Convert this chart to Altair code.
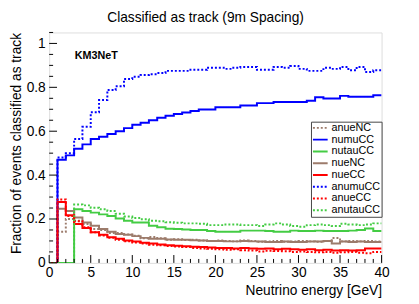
import altair as alt
import pandas as pd

# ---------------- data ----------------
bin_low = list(range(0, 40))          # 1 GeV bins, lower edges
x_end = 40

series = ["anueNC", "numuCC", "nutauCC", "nueNC", "nueCC", "anumuCC", "anueCC", "anutauCC"]
colors = ["#9c7b6b", "#0000ff", "#44cc44", "#9c7b6b", "#ff0000", "#0000ff", "#ff0000", "#44cc44"]
dashes = [[2, 2], [1, 0], [1, 0], [1, 0], [1, 0], [2, 2], [2, 2], [2, 2]]

numuCC = [0, 0.47, 0.49, 0.52, 0.54, 0.565, 0.575, 0.587, 0.600, 0.614,
          0.629, 0.639, 0.650, 0.661, 0.670, 0.678, 0.685, 0.692, 0.699, 0.699,
          0.709, 0.709, 0.709, 0.717, 0.717, 0.728, 0.728, 0.733, 0.733, 0.733,
          0.733, 0.739, 0.755, 0.749, 0.749, 0.761, 0.757, 0.757, 0.757, 0.764]
anumuCC = [0, 0.48, 0.50, 0.565, 0.620, 0.686, 0.742, 0.788, 0.805, 0.838,
           0.848, 0.856, 0.860, 0.865, 0.875, 0.875, 0.875, 0.880, 0.880, 0.889,
           0.889, 0.884, 0.889, 0.893, 0.893, 0.880, 0.880, 0.893, 0.889, 0.897,
           0.884, 0.875, 0.875, 0.889, 0.884, 0.893, 0.878, 0.893, 0.870, 0.878]
nutauCC = [0, 0, 0, 0.244, 0.236, 0.229, 0.221, 0.214, 0.202, 0.192,
           0.184, 0.184, 0.169, 0.162, 0.156, 0.154, 0.152, 0.150, 0.150, 0.145,
           0.142, 0.142, 0.142, 0.147, 0.147, 0.147, 0.145, 0.142, 0.142, 0.147,
           0.145, 0.145, 0.147, 0.145, 0.145, 0.145, 0.147, 0.150, 0.157, 0.145]
anutauCC = [0, 0, 0, 0.266, 0.262, 0.251, 0.244, 0.236, 0.224, 0.211,
            0.205, 0.199, 0.192, 0.190, 0.185, 0.183, 0.180, 0.180, 0.178, 0.172,
            0.172, 0.175, 0.175, 0.172, 0.172, 0.168, 0.175, 0.180, 0.175, 0.168,
            0.165, 0.172, 0.175, 0.172, 0.168, 0.178, 0.175, 0.172, 0.175, 0.180]
nueNC = [0, 0.247, 0.236, 0.207, 0.184, 0.169, 0.154, 0.142, 0.132, 0.128,
         0.122, 0.114, 0.110, 0.110, 0.107, 0.105, 0.105, 0.103, 0.102, 0.100,
         0.100, 0.098, 0.098, 0.100, 0.098, 0.097, 0.095, 0.095, 0.097, 0.095,
         0.095, 0.097, 0.097, 0.100, 0.088, 0.097, 0.095, 0.097, 0.095, 0.095]
anueNC = [0, 0.142, 0.200, 0.192, 0.177, 0.154, 0.150, 0.136, 0.136, 0.130,
          0.124, 0.112, 0.118, 0.112, 0.105, 0.108, 0.104, 0.106, 0.102, 0.100,
          0.102, 0.100, 0.098, 0.102, 0.100, 0.096, 0.098, 0.100, 0.096, 0.098,
          0.100, 0.098, 0.096, 0.100, 0.113, 0.098, 0.100, 0.098, 0.100, 0.098]
nueCC = [0, 0.277, 0.217, 0.177, 0.159, 0.140, 0.128, 0.117, 0.110, 0.102,
         0.097, 0.092, 0.088, 0.084, 0.080, 0.078, 0.076, 0.074, 0.072, 0.070,
         0.068, 0.068, 0.066, 0.068, 0.066, 0.064, 0.066, 0.062, 0.064, 0.062,
         0.060, 0.062, 0.058, 0.060, 0.056, 0.058, 0.056, 0.058, 0.066, 0.066]
anueCC = [0, 0.289, 0.214, 0.190, 0.162, 0.140, 0.125, 0.115, 0.105, 0.098,
          0.093, 0.088, 0.083, 0.080, 0.077, 0.075, 0.072, 0.068, 0.066, 0.064,
          0.062, 0.060, 0.062, 0.058, 0.056, 0.052, 0.055, 0.054, 0.053, 0.050,
          0.052, 0.050, 0.048, 0.050, 0.046, 0.048, 0.050, 0.046, 0.044, 0.050]

values = {"anueNC": anueNC, "numuCC": numuCC, "nutauCC": nutauCC, "nueNC": nueNC,
          "nueCC": nueCC, "anumuCC": anumuCC, "anueCC": anueCC, "anutauCC": anutauCC}

y_major = [0, 0.2, 0.4, 0.6, 0.8, 1.0]
y_minor = [0.05, 0.1, 0.15, 0.25, 0.3, 0.35, 0.45, 0.5, 0.55, 0.65, 0.7, 0.75,
           0.85, 0.9, 0.95, 1.05]
x_major = [0, 5, 10, 15, 20, 25, 30, 35, 40]
x_minor = [e for e in range(0, 41) if e not in x_major]

title_text = "Classified as track (9m Spacing)"
x_title = "Neutrino energy [GeV]"
y_title = "Fraction of events classified as track"
tag = "KM3NeT"

# ---------------- build tables ----------------
rows = []
for k, name in enumerate(series):
    vals = values[name]
    for e, v in zip(bin_low, vals):
        rows.append({"E": e, "frac": v, "series": name, "ord": k})
    rows.append({"E": x_end, "frac": vals[-1], "series": name, "ord": k})
df = pd.DataFrame(rows)

FONT = "Liberation Sans"
W, H = 339, 235

xscale = alt.Scale(domain=[0, 40], nice=False, zero=False)
yscale = alt.Scale(domain=[0, 1.05], nice=False, zero=False)
xaxis = alt.Axis(values=x_major, format="~g", ticks=False, tickSize=0, domain=False,
                 grid=False, labelFont=FONT, labelFontSize=14, labelColor="black",
                 labelPadding=3, labelFlush=False, labelOverlap=False,
                 title=x_title, titleFont=FONT, titleFontSize=14,
                 titleFontWeight="normal", titleColor="black", titleAnchor="end",
                 titlePadding=4)
yaxis = alt.Axis(values=y_major, format="~g", ticks=False, tickSize=0, domain=False,
                 grid=False, labelFont=FONT, labelFontSize=14, labelColor="black",
                 labelPadding=4, labelFlush=False, labelOverlap=False,
                 title=y_title, titleFont=FONT, titleFontSize=14,
                 titleFontWeight="normal", titleColor="black", titleAnchor="end",
                 titlePadding=3)


def X(field):
    return alt.X(f"{field}:Q", scale=xscale, axis=xaxis)


def Y(field):
    return alt.Y(f"{field}:Q", scale=yscale, axis=yaxis)


legend = alt.Legend(title=None, orient="none", legendX=267, legendY=91,
                    fillColor="white", strokeColor="#444", padding=1,
                    symbolType="stroke", symbolStrokeWidth=2, symbolSize=225,
                    labelFont=FONT, labelFontSize=11, labelColor="black",
                    rowPadding=0, clipHeight=10.6, labelOffset=3,
                    labelExpr="datum.label + '    '")

lines = alt.Chart(df).mark_line(interpolate="step-after", strokeWidth=2, clip=True).encode(
    x=X("E"),
    y=Y("frac"),
    color=alt.Color("series:N", sort=series,
                    scale=alt.Scale(domain=series, range=colors), legend=legend),
    strokeDash=alt.StrokeDash("series:N", sort=series,
                              scale=alt.Scale(domain=series, range=dashes),
                              legend=legend),
    order="ord:Q",
)

ymaj = alt.Chart(pd.DataFrame({"t": y_major})).mark_rule(color="black", strokeWidth=1).encode(
    y=Y("t"), x=alt.value(0), x2=alt.value(8))
ymin = alt.Chart(pd.DataFrame({"t": y_minor})).mark_rule(color="black", strokeWidth=1).encode(
    y=Y("t"), x=alt.value(0), x2=alt.value(4))
xmaj = alt.Chart(pd.DataFrame({"t": x_major})).mark_rule(color="black", strokeWidth=1).encode(
    x=X("t"), y=alt.value(H), y2=alt.value(H - 8))
xmin = alt.Chart(pd.DataFrame({"t": x_minor})).mark_rule(color="black", strokeWidth=1).encode(
    x=X("t"), y=alt.value(H), y2=alt.value(H - 4))

label = alt.Chart(pd.DataFrame({"label": [tag]})).mark_text(
    font=FONT, fontSize=11, fontWeight="bold", align="left", baseline="alphabetic",
    color="black").encode(x=alt.value(26), y=alt.value(27), text="label:N")

chart = alt.layer(lines, ymin, ymaj, xmin, xmaj, label).properties(
    width=W, height=H,
    title=alt.TitleParams(title_text, font=FONT, fontSize=14, fontWeight="normal",
                          color="black", anchor="middle", frame="group", dx=-10,
                          offset=7),
    autosize=alt.AutoSizeParams(type="none"),
    padding={"left": 42, "top": 22, "right": 30, "bottom": 40},
).configure_view(stroke="black", strokeWidth=1).configure(background="white")

chart.save("out.html", embed_options={"renderer": "svg", "actions": False})
